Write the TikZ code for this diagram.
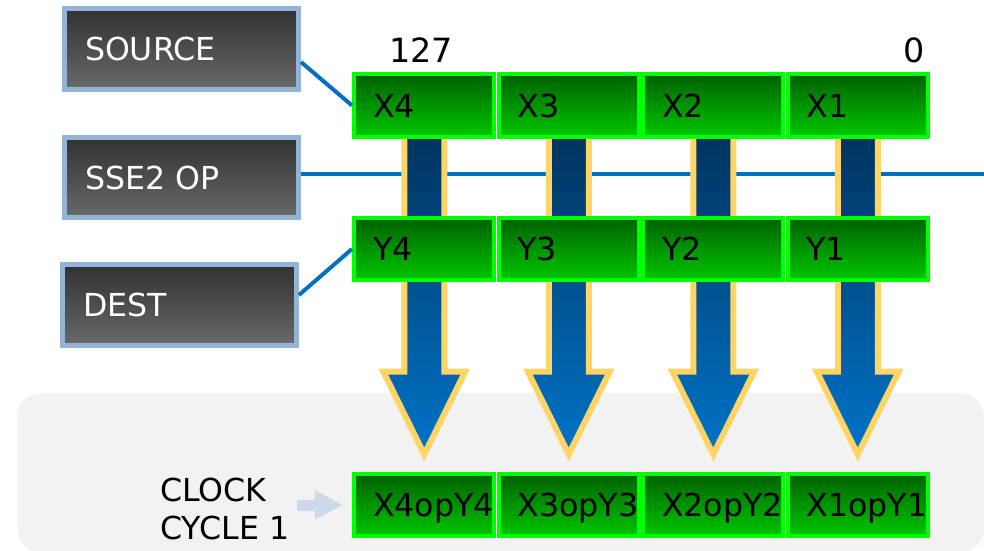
\documentclass[tikz,border=0pt]{standalone}
\usepackage{fontspec}
\setmainfont{DejaVu Sans}
\usetikzlibrary{arrows.meta, positioning, calc}

\definecolor{regbright}{HTML}{00FF00}
\definecolor{regtop}{HTML}{006000}
\definecolor{regbot}{HTML}{00C800}
\definecolor{lanetop}{HTML}{00335E}
\definecolor{lanebot}{HTML}{0074C8}
\definecolor{laneedge}{HTML}{FFD466}
\definecolor{wire}{HTML}{0070C0}
\definecolor{boxedge}{HTML}{95B3D7}
\definecolor{boxtop}{HTML}{313131}
\definecolor{boxbot}{HTML}{6A6A6A}
\definecolor{cyclebg}{HTML}{F2F2F2}
\definecolor{cyclearrow}{HTML}{CDD8EA}

\pgfdeclarelayer{bg}
\pgfdeclarelayer{lanes}
\pgfsetlayers{bg,lanes,main}

\tikzset{
    bigfont/.style={font=\fontsize{18}{21.6}\selectfont},
    opbox/.style={bigfont, draw=boxedge, line width=0.1cm, top color=boxtop, bottom color=boxbot,
        text=white, minimum width=4.68cm, minimum height=1.62cm, text width=3.86cm,
        inner xsep=0.41cm, align=left, text height=13.1pt, text depth=0pt},
    cell/.style={bigfont, draw=regbright, line width=0.08cm, top color=regtop, bottom color=regbot,
        minimum width=2.81cm, minimum height=1.26cm, text width=2.05cm,
        inner xsep=0.38cm, align=left, text height=13.1pt, text depth=0pt},
    link/.style={wire, line width=0.08cm},
    lane/.style={draw=laneedge, line width=0.12cm, top color=lanetop, bottom color=lanebot},
    bitno/.style={font=\fontsize{19}{22}\selectfont, inner sep=0pt},
}

\begin{document}
\begin{tikzpicture}[x=0.02cm, y=-0.02cm]
    \clip (0,0) rectangle (984,551);
    \useasboundingbox (0,0) rectangle (984,551);

    % clock cycle panel
    \begin{pgfonlayer}{bg}
        \fill[cyclebg, rounded corners=0.5cm] (17,393) rectangle (984,553);
    \end{pgfonlayer}

    % operand boxes
    \node[opbox] (src) at (181.5,49) {SOURCE};
    \node[opbox] (sse) at (181.5,177.5) {SSE2 OP};
    \node[opbox] (dst) at (179.5,305) {DEST};

    % registers
    \foreach \n [count=\i from 0] in {4,3,2,1} {
        \node[cell] (x\n) at ({424.25+144.5*\i},105.5) {X\n};
        \node[cell] (y\n) at ({424.25+144.5*\i},249) {Y\n};
        \node[cell] (r\n) at ({424.25+144.5*\i},505) {X\n opY\n};
    }

    \node[bitno, anchor=base west] (msb) at (389,62) {127};
    \node[bitno, anchor=base east] (lsb) at (925,62) {0};

    % wires and lane arrows
    \coordinate (rim) at (984,0);
    \draw[link] ([yshift=-0.26cm]src.east) -- (x4.west);
    \draw[link] ([yshift=0.2cm]dst.east) -- (y4.west);
    \begin{pgfonlayer}{lanes}
        \draw[link] ([yshift=0.07cm]sse.east) -- ([yshift=0.07cm]sse.east -| rim);
        \foreach \n in {4,3,2,1}
            \draw[lane] ($(x\n.south)+(-20,-4)$) -- ($(r\n.north)+(-20,-100)$)
                -- ($(r\n.north)+(-41,-100)$) -- ($(r\n.north)+(0,-17)$)
                -- ($(r\n.north)+(41,-100)$) -- ($(r\n.north)+(20,-100)$)
                -- ($(x\n.south)+(20,-4)$) -- cycle;
    \end{pgfonlayer}

    % clock label
    \node[bigfont, anchor=west, align=left, inner sep=0pt] (clk) at (160,509) {CLOCK\\CYCLE 1};
    \draw[cyclearrow, line width=0.22cm, -{Triangle[length=0.56cm, width=0.54cm]}]
        ([xshift=0.14cm]clk.east |- r4.west) -- ([xshift=-0.18cm]r4.west);
\end{tikzpicture}
\end{document}
